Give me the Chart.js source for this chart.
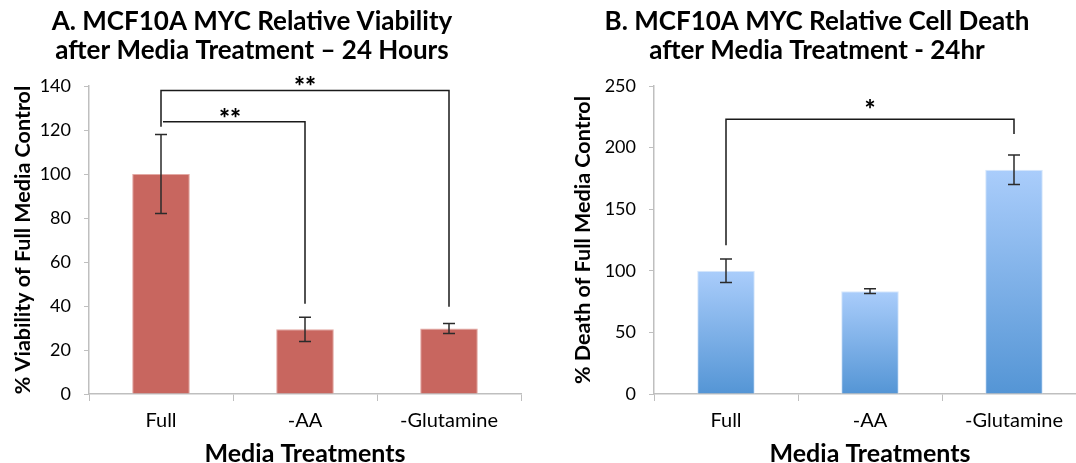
<!DOCTYPE html>
<html>
<head>
<meta charset="utf-8">
<script src="https://cdn.jsdelivr.net/npm/chart.js@4.4.1/dist/chart.umd.min.js"></script>
<style>
  html, body { margin: 0; padding: 0; background: #ffffff; overflow: hidden; width: 1076px; height: 463px; }
  #wrapA { position: absolute; left: 0; top: 0; width: 540px; height: 463px; }
  #wrapB { position: absolute; left: 560px; top: 0; width: 536px; height: 463px; }
</style>
</head>
<body>
<div id="wrapA"><canvas id="chartA" width="540" height="463"></canvas></div>
<div id="wrapB"><canvas id="chartB" width="536" height="463"></canvas></div>
<script>
// ---------- data ----------
const categories = ['Full', '-AA', '-Glutamine'];

const viabilityValues = [100, 29.4, 29.8];
const viabilityErrors = [18, 5.5, 2.3];
const viabilityTicks = [0, 20, 40, 60, 80, 100, 120, 140];

const deathValues = [100, 83.5, 182];
const deathErrors = [9.5, 1.9, 12];
const deathTicks = [0, 50, 100, 150, 200, 250];

const titleA = ['A. MCF10A MYC Relative Viability', 'after Media Treatment \u2013 24 Hours'];
const titleB = ['B. MCF10A MYC Relative Cell Death', 'after Media Treatment - 24hr'];
const yTitleA = '% Viability of Full Media Control';
const yTitleB = '% Death of Full Media Control';
const xTitle = 'Media Treatments';

// significance brackets: from/to category index, bar-top value, ends of the legs, label
const bracketsA = [
  { from: 0, to: 2, top: 138, leftEnd: 121.5, rightEnd: 39.7, label: '**' },
  { from: 0, to: 1, top: 123.8, leftEnd: null, rightEnd: 41, label: '**' }
];
const bracketsB = [
  { from: 0, to: 2, top: 223, leftEnd: 120.8, rightEnd: 211, label: '*' }
];

// ---------- helpers ----------
const FONT = 'Lato, "Open Sans", sans-serif';

const overlayPlugin = {
  id: 'overlay',
  afterDatasetsDraw(chart) {
    const cfg = chart.options.plugins.overlay;
    const ctx = chart.ctx;
    const xs = chart.scales.x, ys = chart.scales.y;
    const meta = chart.getDatasetMeta(0);
    const vals = chart.data.datasets[0].data;
    ctx.save();
    // error bars
    ctx.strokeStyle = '#2b2b2b';
    ctx.lineWidth = 1.5;
    vals.forEach((v, i) => {
      const e = cfg.errors[i];
      const x = meta.data[i].x;
      const yt = ys.getPixelForValue(v + e);
      const yb = ys.getPixelForValue(v - e);
      ctx.beginPath();
      ctx.moveTo(x, yt); ctx.lineTo(x, yb);
      ctx.moveTo(x - 6, yt); ctx.lineTo(x + 6, yt);
      ctx.moveTo(x - 6, yb); ctx.lineTo(x + 6, yb);
      ctx.stroke();
    });
    // brackets
    ctx.strokeStyle = '#1a1a1a';
    ctx.lineWidth = 1.5;
    ctx.fillStyle = '#000';
    ctx.textAlign = 'center';
    ctx.textBaseline = 'alphabetic';
    cfg.brackets.forEach(b => {
      const x1 = xs.getPixelForValue(b.from);
      const x2 = xs.getPixelForValue(b.to);
      const yTop = ys.getPixelForValue(b.top);
      ctx.beginPath();
      if (b.leftEnd !== null) {
        ctx.moveTo(x1, ys.getPixelForValue(b.leftEnd));
        ctx.lineTo(x1, yTop);
      } else {
        ctx.moveTo(x1 + 2, yTop);
      }
      ctx.lineTo(x2, yTop);
      ctx.lineTo(x2, ys.getPixelForValue(b.rightEnd));
      ctx.stroke();
      ctx.font = '900 26px ' + FONT;
      const lx = b.leftEnd === null ? x1 + (x2 - x1) * 0.48 : (x1 + x2) / 2;
      ctx.fillText(b.label, lx, yTop + cfg.labelDrop);
    });
    ctx.restore();
  },
  afterDraw(chart) {
    const cfg = chart.options.plugins.overlay;
    const ctx = chart.ctx;
    ctx.save();
    ctx.fillStyle = '#000';
    ctx.textAlign = 'center';
    ctx.textBaseline = 'middle';
    ctx.font = 'bold 26px ' + FONT;
    cfg.title.forEach((line, k) => {
      ctx.fillText(line, cfg.titleX, 22 + k * 29);
    });
    ctx.restore();
  }
};

function makeChart(id, values, errors, ticks, yTitle, brackets, title, titleX, bg, border, yWidth, padRight, labelDrop) {
  const maxV = ticks[ticks.length - 1];
  return new Chart(document.getElementById(id), {
    type: 'bar',
    data: {
      labels: categories,
      datasets: [{
        data: values,
        backgroundColor: bg,
        borderColor: border,
        borderWidth: 1,
        barPercentage: 0.4,
        categoryPercentage: 1.0
      }]
    },
    options: {
      responsive: false,
      animation: false,
      devicePixelRatio: 1,
      layout: { padding: { top: 86, right: padRight, bottom: 0, left: 0 } },
      plugins: {
        legend: { display: false },
        tooltip: { enabled: false },
        title: { display: false },
        overlay: { errors: errors, brackets: brackets, title: title, titleX: titleX, labelDrop: labelDrop }
      },
      scales: {
        x: {
          grid: { offset: true, drawOnChartArea: false, drawTicks: true, tickLength: 7, color: '#bfbfbf', lineWidth: 1 },
          border: { color: '#bfbfbf', width: 1.5 },
          ticks: { color: '#000', font: { family: FONT, size: 20 }, padding: 8, maxRotation: 0 },
          title: { display: true, text: xTitle, color: '#000', font: { family: FONT, size: 25, weight: 'bold', lineHeight: 1.0 }, padding: { top: 0, bottom: -3 } },
          afterFit(scale) { scale.height = 69; }
        },
        y: {
          min: 0, max: maxV,
          afterBuildTicks(scale) { scale.ticks = ticks.map(v => ({ value: v })); },
          grid: { drawOnChartArea: false, drawTicks: true, tickLength: 5, color: '#bfbfbf' },
          border: { color: '#bfbfbf', width: 1.5 },
          ticks: { color: '#000', font: { family: FONT, size: 18 }, padding: 13 },
          title: { display: true, text: yTitle, color: '#000', font: { family: FONT, size: 21.5, weight: 'bold' }, padding: { top: 10, bottom: 0 } },
          afterFit(scale) { scale.width = yWidth; }
        }
      }
    },
    plugins: [overlayPlugin]
  });
}

makeChart('chartA', viabilityValues, viabilityErrors, viabilityTicks, yTitleA, bracketsA, titleA, 252,
  '#c8665f', '#e3a9a4', 89, 19, 6);

function blueGradient(context) {
  const chart = context.chart;
  const ys = chart.scales.y;
  if (!ys || context.parsed === undefined || context.parsed === null) return '#7aaee6';
  const yTop = ys.getPixelForValue(context.parsed.y);
  const yBot = ys.getPixelForValue(0);
  if (!isFinite(yTop) || !isFinite(yBot)) return '#7aaee6';
  const g = chart.ctx.createLinearGradient(0, yTop, 0, yBot);
  g.addColorStop(0, '#aacdfb');
  g.addColorStop(1, '#5495d5');
  return g;
}

makeChart('chartB', deathValues, deathErrors, deathTicks, yTitleB, bracketsB, titleB, 257,
  blueGradient, '#d8e8fb', 94, 10, 0);
</script>
</body>
</html>
